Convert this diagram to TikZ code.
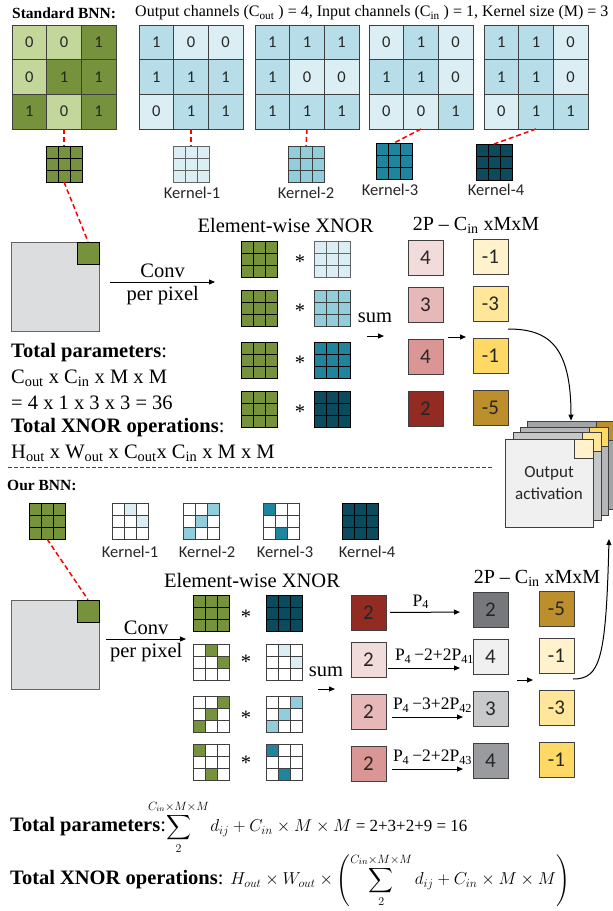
\documentclass[tikz,border=0pt]{standalone}
\usepackage{fontspec}
\usepackage{mathtools}
\setmainfont{Liberation Serif}
\newfontfamily\calib{Carlito}
\usetikzlibrary{arrows.meta}

\definecolor{grn0}{HTML}{C4D79B}
\definecolor{grn1}{HTML}{76923C}
\definecolor{blu0}{HTML}{DAEEF3}
\definecolor{blu1}{HTML}{B7DEE8}
\definecolor{blu2}{HTML}{92CDDC}
\definecolor{blu3}{HTML}{1F849E}
\definecolor{blu4}{HTML}{0C4B5E}
\definecolor{pnk1}{HTML}{F2DCDB}
\definecolor{pnk2}{HTML}{E6B9B8}
\definecolor{pnk3}{HTML}{D99694}
\definecolor{pnk4}{HTML}{922B21}
\definecolor{yel1}{HTML}{FFF2CC}
\definecolor{yel2}{HTML}{FFE699}
\definecolor{yel3}{HTML}{FFD966}
\definecolor{yel4}{HTML}{BD8F2C}
\definecolor{gry1}{HTML}{77787B}
\definecolor{gry2}{HTML}{F0F0F0}
\definecolor{gry3}{HTML}{C8C9CB}
\definecolor{gry4}{HTML}{9A9B9E}
\definecolor{lay2}{HTML}{C6C7C9}
\definecolor{lay3}{HTML}{B5B6B8}
\definecolor{lay4}{HTML}{A3A4A6}
\definecolor{imgc}{HTML}{DCDDDF}
\definecolor{edge}{HTML}{3F3F3F}

\tikzset{
  cell/.style={draw=edge, line width=0.8pt, minimum size=34.67pt, inner sep=0pt, outer sep=0pt,
    font=\calib\fontsize{16.5}{16.5}\selectfont, text=black!85},
  kbox/.style={line width=0.8pt, minimum size=36pt, inner sep=0pt, outer sep=0pt},
  valbox/.style={draw=edge, line width=0.8pt, minimum size=35pt, inner sep=0pt, outer sep=0pt,
    font=\calib\fontsize{21}{21}\selectfont, text=black!85},
  klabel/.style={font=\calib\fontsize{16.5}{17}\selectfont, text=black!85},
  serif/.style={font=\fontsize{20.5}{24}\selectfont},
  plab/.style={font=\fontsize{17.5}{20}\selectfont, inner sep=1pt},
  txt/.style={anchor=west, inner sep=0pt},
  redline/.style={draw=red, line width=1.5pt, dash pattern=on 5pt off 3pt},
  arr/.style={-{Triangle[length=6pt,width=5pt]}, line width=1pt},
}
\newcommand\mathsz{\fontsize{16.5}{19}\selectfont}
\newcommand\mathszb{\fontsize{17.5}{20}\selectfont}

% big 3x3 matrix with values: name, left, top, values, colour prefix
\newcommand\bigmat[5]{%
  \foreach \val [count=\idx from 0] in {#4} {
    \pgfmathtruncatemacro\rr{\idx/3}
    \pgfmathtruncatemacro\cc{mod(\idx,3)}
    \node[cell, fill=#5\val] (#1-\idx) at (#2+\cc*34.67+17.33, #3+\rr*34.67+17.33) {\val};
  }
  \node[kbox, minimum size=104pt, draw=edge] (#1) at (#2+52, #3+52) {};
}
% small full kernel: name, left, top, fill, grid colour
\newcommand\smallk[5]{%
  \node[kbox, fill=#4, draw=#5] (#1) at (#2+18, #3+18) {};
  \foreach \n in {1,2} {
    \draw[#5, line width=0.8pt] (#2+\n*12, #3) -- (#2+\n*12, #3+36);
    \draw[#5, line width=0.8pt] (#2, #3+\n*12) -- (#2+36, #3+\n*12);
  }
}
% sparse kernel: name, left, top, colour, filled cells row/col
\newcommand\sparsek[5]{%
  \node[kbox, fill=white, draw=edge] (#1) at (#2+18, #3+18) {};
  \foreach \rr/\cc in {#5}
    \fill[#4] (#2+\cc*12, #3+\rr*12) rectangle ++(12,12);
  \foreach \n in {1,2} {
    \draw[edge, line width=0.8pt] (#2+\n*12, #3) -- (#2+\n*12, #3+36);
    \draw[edge, line width=0.8pt] (#2, #3+\n*12) -- (#2+36, #3+\n*12);
  }
  \draw[edge, line width=0.8pt] (#2, #3) rectangle ++(36,36);
}

\begin{document}
\begin{tikzpicture}[x=1pt, y=-1pt]
\useasboundingbox (0,0) rectangle (613,911);

% ---------- standard BNN ----------
\node[txt, font=\bfseries\fontsize{15.5}{16}\selectfont] (std) at (12,13) {Standard BNN:};
\node[txt, font=\fontsize{16}{16}\selectfont] (hdr) at (135,13)
  {Output channels (C\textsubscript{out} ) = 4, Input channels (C\textsubscript{in} ) = 1, Kernel size (M) = 3};

\bigmat{gm}{12}{25}{0,0,1,0,1,1,1,0,1}{grn}
\bigmat{km1}{139}{25}{1,0,0,1,1,1,0,1,1}{blu}
\bigmat{km2}{255}{25}{1,1,1,1,0,0,1,1,1}{blu}
\bigmat{km3}{369}{25}{0,1,0,1,1,0,0,0,1}{blu}
\bigmat{km4}{484}{25}{1,1,0,1,1,0,0,1,1}{blu}

\smallk{gk}{46}{146}{grn1}{black}
\smallk{sk1}{173}{146}{blu0}{edge!80}
\smallk{sk2}{288}{146}{blu2}{edge}
\smallk{sk3}{376}{143}{blu3}{black}
\smallk{sk4}{476}{144}{blu4}{black}

\node[klabel] (kl1) at (192,193) {Kernel-1};
\node[klabel] (kl2) at (306,193) {Kernel-2};
\node[klabel] (kl3) at (390,190) {Kernel-3};
\node[klabel] (kl4) at (496,190) {Kernel-4};

\draw[redline] (gm.south) -- (gk.north);
\draw[redline] (km1.south) -- (sk1.north);
\draw[redline] (km2.south) -- (sk2.north);
\draw[redline] (km3.south) -- (sk3.north);
\draw[redline] (km4.south) -- (sk4.north);

\node[draw=edge!80, fill=imgc, line width=0.8pt, minimum width=88pt, minimum height=89pt, inner sep=0pt] (img1) at (55,286.5) {};
\node[draw=black, fill=grn1, line width=0.8pt, minimum size=22pt, inner sep=0pt] (pt1) at (88,253) {};
\draw[redline] (gk.south) -- (pt1.north);

\coordinate (cv1) at (215,282);
\draw[arr] ([xshift=11pt, yshift=4.5pt]img1.east) -- (cv1)
  node[midway, above, serif] (conv1) {Conv}
  node[midway, below, serif] (pp1) {per pixel};

\node[serif] (ew1) at (285.5,225) {Element-wise XNOR};
\node[serif, font=\fontsize{20}{24}\selectfont] (tp1) at (476,225) {2P – C\textsubscript{in} xMxM};

\smallk{gx1}{241}{241}{grn1}{black}
\smallk{gx2}{241}{290}{grn1}{black}
\smallk{gx3}{241}{342}{grn1}{black}
\smallk{gx4}{241}{391}{grn1}{black}
\smallk{bx1}{314}{241}{blu0}{edge!80}
\smallk{bx2}{314}{290}{blu2}{edge}
\smallk{bx3}{314}{342}{blu3}{black}
\smallk{bx4}{314}{391}{blu4}{black}
\foreach \yy [count=\n] in {259,308,360,409}
  \node[serif] (ast\n) at (300,\yy+3) {*};

\node[serif] (sum1) at (375,318) {sum};
\coordinate (sa1) at (367,336);
\draw[arr] (sa1) -- ++(17,0);

\foreach \vv/\cl/\yy [count=\n] in {4/pnk1/258, 3/pnk2/305, 4/pnk3/356.5, 2/pnk4/408.5}
  \node[valbox, fill=\cl] (pk\n) at (425.5,\yy) {\vv};
\foreach \vv/\cl/\yy [count=\n] in {-1/yel1/256.5, -3/yel2/303.5, -1/yel3/355.5, -5/yel4/407.5}
  \node[valbox, fill=\cl] (yl\n) at (490.5,\yy) {\vv};
\coordinate (sa2) at (448,337);
\draw[arr] (sa2) -- ++(18,0);

% output activation stack
\foreach \n/\cx/\cy/\cl/\pc in {4/571/465/lay4/yel4, 3/564/471/lay3/yel3, 2/557/476/lay2/yel2, 1/549/483/gry2/yel1} {
  \node[draw=edge, fill=\cl, line width=0.8pt, minimum size=88pt, inner sep=0pt] (act\n) at (\cx,\cy) {};
  \node[draw=edge, fill=\pc, line width=0.8pt, minimum size=19pt, inner sep=0pt, anchor=north east] (ap\n) at (act\n.north east) {};
}
\node[klabel, font=\calib\fontsize{17}{22}\selectfont, align=center] (actlbl) at (act1) {Output\\activation};

\coordinate (c1) at (508,329);
\draw[arr] (c1) .. controls (548,329) and (571,345) .. (act4.north);

\node[txt, serif] (tp1a) at (11,353) {\textbf{Total parameters}:};
\node[txt, serif] (tp1b) at (11,378) {C\textsubscript{out} x C\textsubscript{in} x M x M};
\node[txt, serif] (tp1c) at (11,403) {= 4 x 1 x 3 x 3 = 36};
\node[txt, serif] (tx1a) at (11,428) {\textbf{Total XNOR operations}:};
\node[txt, serif] (tx1b) at (11,453) {H\textsubscript{out} x W\textsubscript{out} x C\textsubscript{out}x C\textsubscript{in} x M x M};

\draw[edge, line width=0.8pt, dash pattern=on 4pt off 2pt] (8,467) -- (493,467);

% ---------- our BNN ----------
\node[txt, font=\bfseries\fontsize{15.5}{16}\selectfont] (our) at (7,485) {Our BNN:};
\smallk{gk2}{29}{503}{grn1}{black}
\sparsek{spk1}{112}{503}{blu0}{0/1,1/2}
\sparsek{spk2}{183}{503}{blu2}{0/2,1/1,2/0}
\sparsek{spk3}{263}{503}{blu3}{0/0,2/1}
\smallk{spk4}{342}{503}{blu4}{black}
\node[klabel] (kb1) at (130,552) {Kernel-1};
\node[klabel] (kb2) at (207,552) {Kernel-2};
\node[klabel] (kb3) at (285,552) {Kernel-3};
\node[klabel] (kb4) at (367,552) {Kernel-4};

\node[draw=edge!80, fill=imgc, line width=0.8pt, minimum width=88pt, minimum height=89pt, inner sep=0pt] (img2) at (55,644.5) {};
\node[draw=black, fill=grn1, line width=0.8pt, minimum size=22pt, inner sep=0pt] (pt2) at (88,611) {};
\draw[redline] (gk2.south) -- (pt2.north);

\coordinate (cv2) at (186,639);
\draw[arr] ([xshift=7pt, yshift=5.5pt]img2.east) -- (cv2)
  node[midway, above, serif] (conv2) {Conv}
  node[midway, below, serif] (pp2) {per pixel};

\node[serif] (ew2) at (252,580) {Element-wise XNOR};
\node[serif, font=\fontsize{20}{24}\selectfont] (tp2) at (537,578) {2P – C\textsubscript{in} xMxM};

\smallk{gx5}{193}{595}{grn1}{black}
\sparsek{gx6}{193}{644}{grn1}{0/1,1/2}
\sparsek{gx7}{193}{696}{grn1}{0/2,1/1,2/0}
\sparsek{gx8}{193}{744}{grn1}{0/0,2/1}
\smallk{bx5}{266}{595}{blu4}{black}
\sparsek{bx6}{266}{644}{blu0}{0/1,1/2}
\sparsek{bx7}{266}{696}{blu2}{0/2,1/1,2/0}
\sparsek{bx8}{266}{744}{blu3}{0/0,2/1}
\foreach \yy [count=\n] in {614,659,715,760}
  \node[serif] (astb\n) at (246,\yy+3) {*};

\node[serif] (sum2) at (326,672) {sum};
\coordinate (sa3) at (318,689);
\draw[arr] (sa3) -- ++(17,0);

\foreach \vv/\cl/\yy [count=\n] in {2/pnk4/612.5, 2/pnk1/660, 2/pnk2/711.5, 2/pnk3/763.5}
  \node[valbox, fill=\cl] (pb\n) at (368.5,\yy) {\vv};
\foreach \vv/\cl/\yy [count=\n] in {2/gry1/609.5, 4/gry2/656.5, 3/gry3/708.5, 4/gry4/760.5}
  \node[valbox, fill=\cl] (gy\n) at (490.5,\yy) {\vv};
\foreach \vv/\cl/\yy [count=\n] in {-5/yel4/609, -1/yel1/655.5, -3/yel2/707.5, -1/yel3/759.5}
  \node[valbox, fill=\cl] (yb\n) at (556.5,\yy) {\vv};

\draw[arr, shorten <=4pt, shorten >=13pt] (pb1.east) -- ([yshift=-2.5pt]gy1.west)
  node[plab, pos=0.4, above=2pt] (lp1) {P\textsubscript{4}};
\draw[arr, shorten <=2pt, shorten >=13pt] ([yshift=-8pt]pb2.east) -- ([yshift=-11.5pt]gy2.west)
  node[plab, midway, above=3pt, xshift=5pt] (lp2) {P\textsubscript{4}\,−2+2P\textsubscript{41}};
\draw[arr, shorten <=6pt, shorten >=10pt] ([yshift=-5.5pt]pb3.east) -- ([yshift=-8.5pt]gy3.west)
  node[plab, midway, above=3pt, xshift=3pt] (lp3) {P\textsubscript{4}\,−3+2P\textsubscript{42}};
\draw[arr, shorten <=6pt, shorten >=10pt] ([yshift=-5.5pt]pb4.east) -- ([yshift=-8.5pt]gy4.west)
  node[plab, midway, above=3pt, xshift=3pt] (lp4) {P\textsubscript{4}\,−2+2P\textsubscript{43}};

\coordinate (sa4) at (517,680);
\draw[arr] (sa4) -- ++(16,0);

\coordinate (c2) at (573,679);
\coordinate (c3) at (609,539);
\draw[arr] (c2) .. controls (600,679) and (606,660) .. (c3);

\node[txt, serif] (tp2a) at (10,827)
  {\textbf{Total parameters}:{\mathsz$\displaystyle\sum\limits_{2}^{\mathclap{C_{in}\times M\times M}}\quad d_{ij}+C_{in}\times M\times M$}%
   {\fontsize{17}{20}\selectfont\ = 2+3+2+9 = 16}};
\node[txt, serif] (tx2a) at (10,880)
  {\textbf{Total XNOR operations}: {\mathszb$H_{out}\times W_{out}\times\left(\displaystyle\sum_{2}^{C_{in}\times M\times M} d_{ij}+C_{in}\times M\times M\right)$}};
\end{tikzpicture}
\end{document}
